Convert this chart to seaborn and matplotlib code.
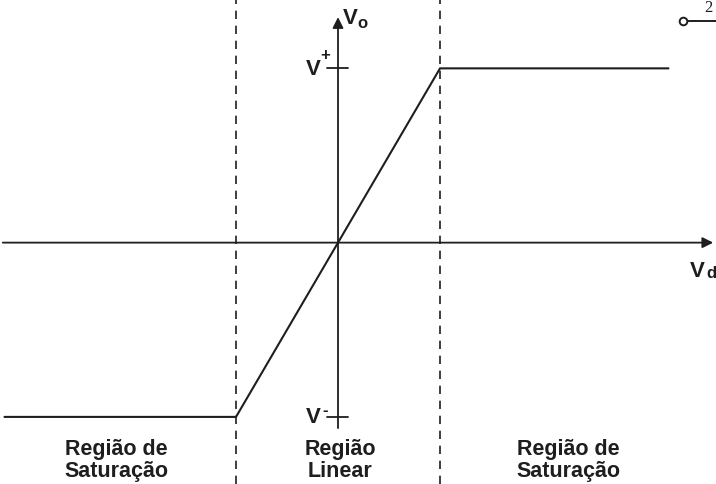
import matplotlib
matplotlib.use("Agg")
import matplotlib.pyplot as plt
import seaborn as sns
import pandas as pd

# -----------------------------
# Data (Vd in units of the linear-region edge, Vo in units of saturation)
# -----------------------------
vd_points = [-3.27, -1.0, 1.0, 3.24]
vo_points = [-1.0, -1.0, 1.0, 1.0]
region_edges = [-1.0, 1.0]
sat_levels = [1.0, -1.0]
sat_labels = ["V", "V"]
sat_signs = ["+", "-"]
region_names = ["Região de\nSaturação", "Região\nLinear", "Região de\nSaturação"]
region_centers = [-2.17, 0.02, 2.26]

df = pd.DataFrame({"Vd": vd_points, "Vo": vo_points})

# -----------------------------
# Figure
# -----------------------------
sns.set_style("white")
plt.rcParams["font.family"] = ["Liberation Sans", "DejaVu Sans"]

fig = plt.figure(figsize=(7.16, 4.85), dpi=100)
ax = fig.add_axes([0, 0, 1, 1])
ax.set_xlim(-3.314, 3.706)
ax.set_ylim(-1.385, 1.398)
ax.axis("off")

ink = "#1e1e1e"

# transfer characteristic
sns.lineplot(data=df, x="Vd", y="Vo", ax=ax, color=ink, lw=1.5, sort=False)

# region boundaries
for e in region_edges:
    ax.axvline(e, color=ink, lw=1.2, ls=(0, (5, 4)))

# axes with arrows
ax.annotate("", xy=(3.706, 0), xytext=(-3.314, 0),
            arrowprops=dict(arrowstyle="-|>", color=ink, lw=1.3, mutation_scale=16))
ax.annotate("", xy=(0, 1.31), xytext=(0, -1.08),
            arrowprops=dict(arrowstyle="-|>", color=ink, lw=1.3, mutation_scale=16))

# saturation ticks and labels
sign_offsets = [0.08, 0.04]
for lvl, lab, sgn, off in zip(sat_levels, sat_labels, sat_signs, sign_offsets):
    ax.plot([-0.11, 0.10], [lvl, lvl], color=ink, lw=1.3)
    ax.text(-0.17, lvl, lab, ha="right", va="center", fontsize=16,
            fontweight="bold", color=ink)
    ax.text(-0.13, lvl + off, sgn, ha="center", va="center", fontsize=12,
            fontweight="bold", color=ink)

ax.text(0.05, 1.29, "V", ha="left", va="center", fontsize=16, fontweight="bold", color=ink)
ax.text(0.19, 1.265, "o", ha="left", va="center", fontsize=12, fontweight="bold", color=ink)
ax.text(3.45, -0.16, "V", ha="left", va="center", fontsize=16, fontweight="bold", color=ink)
ax.text(3.61, -0.17, "d", ha="left", va="center", fontsize=12, fontweight="bold", color=ink)

# region names
for c, name in zip(region_centers, region_names):
    ax.text(c, -1.243, name, ha="center", va="center", fontsize=15.5,
            fontweight="bold", color=ink, linespacing=1.05)

# terminal stub in the corner
ax.plot([3.38, 3.706], [1.272, 1.272], color=ink, lw=1.4)
ax.plot([3.38], [1.272], "o", ms=5.5, mfc="white", mec=ink, mew=1.4)
ax.text(3.63, 1.35, "2", ha="center", va="center", fontsize=12,
        family=["Liberation Serif", "DejaVu Serif"], color=ink)

fig.savefig("out.png", dpi=100)
